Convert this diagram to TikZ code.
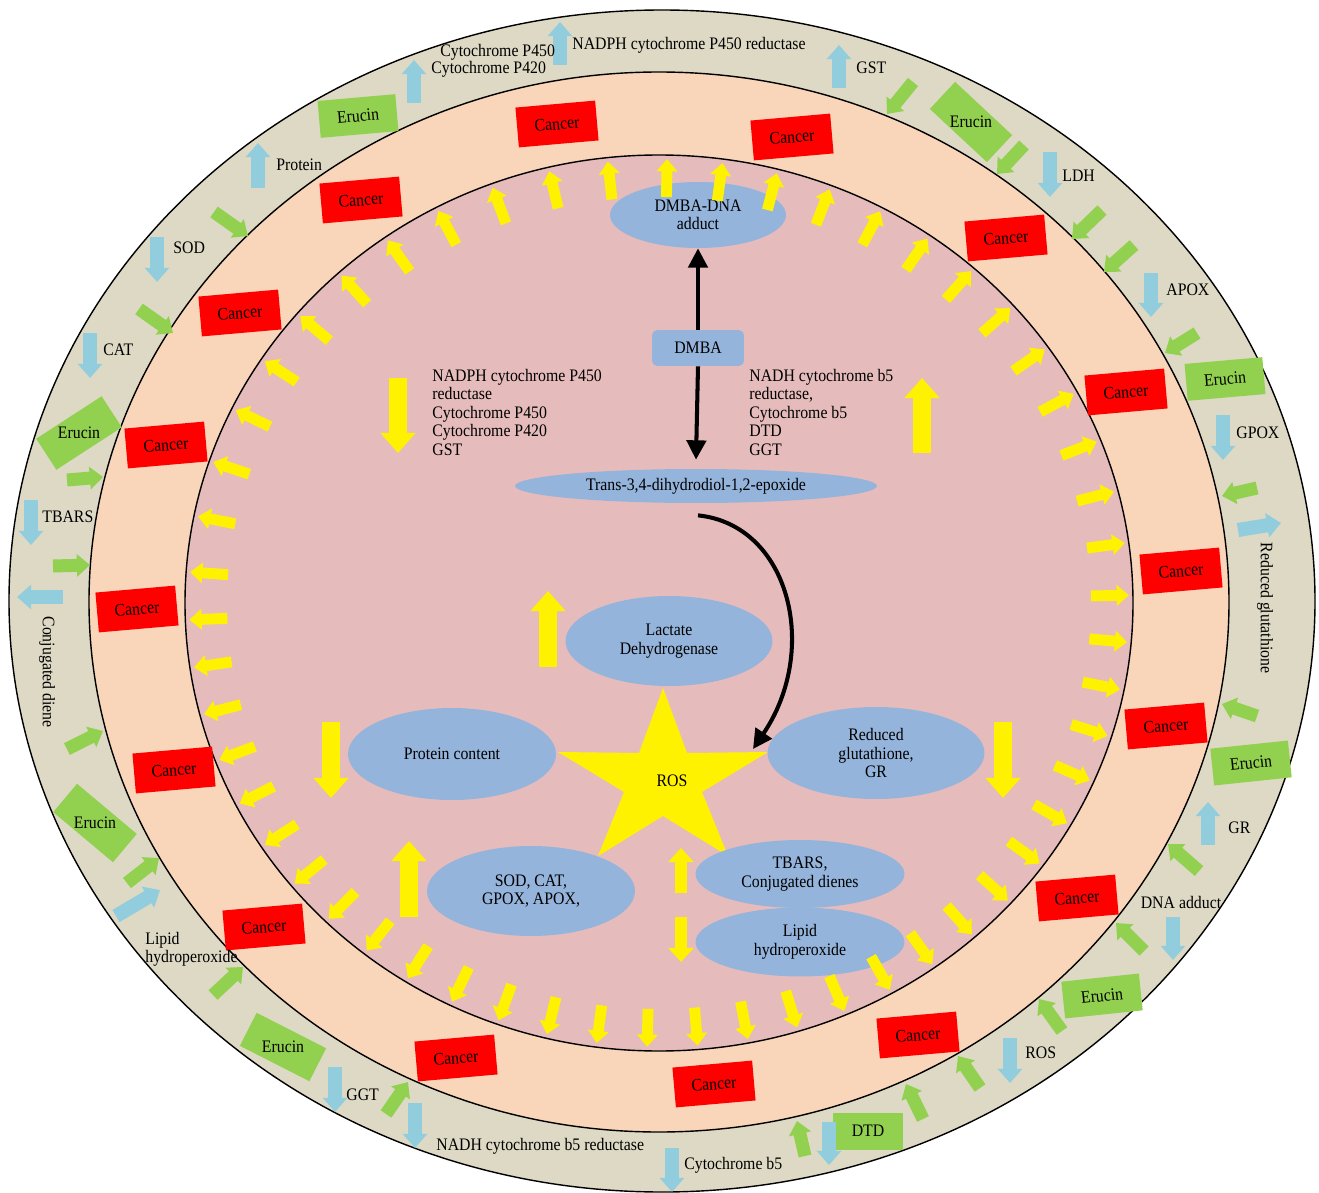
\documentclass[tikz,border=0pt]{standalone}
\usepackage{fontspec}
\setmainfont{Liberation Serif}[FakeStretch=0.9]
\usetikzlibrary{shapes.geometric,arrows.meta,calc,positioning}

\definecolor{bandout}{RGB}{221,217,196}
\definecolor{bandmid}{RGB}{249,213,186}
\definecolor{bandin}{RGB}{229,188,187}
\definecolor{ovalblue}{RGB}{148,180,220}
\definecolor{leafgreen}{RGB}{146,208,80}
\definecolor{skyblue}{RGB}{146,205,222}

\begin{document}
\begin{tikzpicture}[x=0.02cm,y=-0.02cm,font=\fontsize{10}{10.5}\selectfont]
\tikzset{oval/.style={ellipse,fill=ovalblue,inner sep=0pt,align=center}}
\tikzset{cancer/.style={rectangle,fill=red,minimum width=1.6cm,minimum height=0.8cm,inner sep=0pt}}
\tikzset{erucin/.style={rectangle,fill=leafgreen,minimum width=1.56cm,minimum height=0.74cm,inner sep=0pt}}
\tikzset{lbl/.style={anchor=west,inner sep=0pt}}
\tikzset{yring/.style={yellow,line width=6.2pt,-{Triangle[length=7pt,width=11.5pt]}}}
\tikzset{ybig/.style={yellow,line width=10pt,-{Triangle[length=11.5pt,width=19.5pt]}}}
\tikzset{ymid/.style={yellow,line width=7.2pt,-{Triangle[length=8pt,width=14pt]}}}
\tikzset{garrow/.style={leafgreen,line width=7.4pt,-{Triangle[length=7.5pt,width=12.5pt]}}}
\tikzset{barrow/.style={skyblue,line width=8pt,-{Triangle[length=8pt,width=13.5pt]}}}
\tikzset{karrow/.style={black,line width=2.3pt,-{Triangle[length=11pt,width=11pt]}}}

\useasboundingbox (0,0) rectangle (1319,1193);

% the three bands
\filldraw[fill=bandout,line width=0.8pt] (662,601) ellipse [x radius=653, y radius=591];
\filldraw[fill=bandmid,line width=0.8pt] (659,602) ellipse [x radius=570, y radius=530];
\filldraw[fill=bandin,line width=0.8pt] (659,603) ellipse [x radius=474, y radius=448];

% cancer boxes in the middle band
\node[cancer,rotate=5] (c1) at (557,124) {Cancer};
\node[cancer,rotate=5] (c2) at (792,137) {Cancer};
\node[cancer,rotate=5] (c3) at (361,200) {Cancer};
\node[cancer,rotate=5] (c4) at (1006,238) {Cancer};
\node[cancer,rotate=5] (c5) at (240,313) {Cancer};
\node[cancer,rotate=5] (c6) at (1126,392) {Cancer};
\node[cancer,rotate=5] (c7) at (166,445) {Cancer};
\node[cancer,rotate=5] (c8) at (1181,571) {Cancer};
\node[cancer,rotate=5] (c9) at (137,609) {Cancer};
\node[cancer,rotate=5] (c10) at (1166,726) {Cancer};
\node[cancer,rotate=5] (c11) at (174,770) {Cancer};
\node[cancer,rotate=5] (c12) at (1077,898) {Cancer};
\node[cancer,rotate=5] (c13) at (264,927) {Cancer};
\node[cancer,rotate=5] (c14) at (918,1035) {Cancer};
\node[cancer,rotate=5] (c15) at (456,1058) {Cancer};
\node[cancer,rotate=5] (c16) at (714,1084) {Cancer};

% erucin boxes in the outer band
\node[erucin,rotate=5] (e1) at (358,116) {Erucin};
\node[erucin,rotate=-43] (e2) at (971,122) {};
\node (e2t) at (e2) {Erucin};
\node[erucin,rotate=5] (e3) at (1225,379) {Erucin};
\node[erucin,rotate=33] (e4) at (79,433) {};
\node (e4t) at (e4) {Erucin};
\node[erucin,rotate=6] (e5) at (1251,763) {Erucin};
\node[erucin,rotate=-40] (e6) at (95,823) {};
\node (e6t) at (e6) {Erucin};
\node[erucin,rotate=6] (e7) at (1102,996) {Erucin};
\node[erucin,rotate=-27] (e8) at (283,1047) {};
\node (e8t) at (e8) {Erucin};
\node[erucin,minimum width=1.4cm] (dtd) at (868,1131) {DTD};

% green arrows
\foreach \xa/\ya/\xb/\yb in {214/212/248/236, 139/309/173/333, 913/82/887/114,
  1024/145/997/174, 1102/210/1072/239, 1134/245/1104/272, 1197/333/1165/353,
  1257/488/1222/496, 1257/716/1222/704, 1199/871/1168/844, 1144/951/1116/923,
  1062/1031/1039/999, 980/1088/958/1056, 923/1119/906/1084, 805/1156/797/1121,
  386/1114/408/1082, 213/995/243/967, 127/883/159/858, 67/749/103/731,
  53/566/90/565, 67/480/103/477}{%
\draw[garrow] (\xa,\ya) -- (\xb,\yb);}

% blue arrows
\foreach \xa/\ya/\xb/\yb in {414/103/414/60, 560/65/560/22, 839/88/839/45,
  1050/152/1050/197, 1151/273/1151/317, 1223/415/1223/460, 1238/530/1281/523,
  1208/845/1208/802, 1173/917/1173/960, 1010/1038/1010/1083, 829/1122/829/1165,
  672/1148/672/1192, 415/1103/415/1148, 335/1067/335/1112, 116/916/160/890,
  63/597/17/597, 31/500/31/545, 90/333/90/378, 157/237/157/282, 258/188/258/143}{%
\draw[barrow] (\xa,\ya) -- (\xb,\yb);}

% labels of the outer band
\node[lbl] (cyp450) at (440,52) {Cytochrome P450};
\node[lbl] (cyp420) at (431,69) {Cytochrome P420};
\node[lbl] (nadphr) at (572,45) {NADPH cytochrome P450 reductase};
\node[lbl] (gst) at (856,68) {GST};
\node[lbl] (ldh) at (1062,176) {LDH};
\node[lbl] (apox) at (1166,290) {APOX};
\node[lbl] (gpox) at (1236,433) {GPOX};
\node[rotate=-90] (rglut) at (1265,608) {Reduced glutathione};
\node[lbl] (gr) at (1228,828) {GR};
\node (dnaadd) at (1181,902) {DNA adduct};
\node[lbl] (rosl) at (1025,1053) {ROS};
\node[lbl] (cytb5) at (684,1165) {Cytochrome b5};
\node[lbl] (nadhr) at (436,1146) {NADH cytochrome b5 reductase};
\node[lbl] (ggt) at (346,1095) {GGT};
\node[lbl,align=left,anchor=north west] (lipidl) at (145,932) {Lipid\\hydroperoxide};
\node[rotate=-90] (cdiene) at (47,672) {Conjugated diene};
\node[lbl] (tbarsl) at (42,517) {TBARS};
\node[lbl] (cat) at (103,350) {CAT};
\node[lbl] (sodl) at (173,248) {SOD};
\node[lbl] (prot) at (276,165) {Protein};

% ROS star
\fill[yellow] (663,688) -- (687,753) -- (768,752) -- (702,792) -- (728,856) -- (663,816)
  -- (598,856) -- (624,792) -- (558,752) -- (639,753) -- cycle;
\node (ros) at (672,781) {ROS};
\coordinate (rostip) at (753,749);

% inner nodes
\node[oval,minimum width=3.52cm,minimum height=1.32cm] (adduct) at (698,215) {DMBA-DNA\\adduct};
\node[rectangle,rounded corners=3pt,fill=ovalblue,minimum width=1.84cm,minimum height=0.72cm] (dmba) at (698,348) {DMBA};
\node[oval,minimum width=7.24cm,minimum height=0.68cm] (trans) at (696,486) {Trans-3,4-dihydrodiol-1,2-epoxide};
\node[oval,minimum width=4.14cm,minimum height=1.8cm] (lactate) at (669,641) {Lactate\\Dehydrogenase};
\node[oval,minimum width=4.16cm,minimum height=1.84cm] (protein) at (452,754) {Protein content};
\node[oval,minimum width=4.34cm,minimum height=1.84cm] (redglut) at (876,753) {Reduced\\glutathione,\\GR};
\node[oval,minimum width=4.16cm,minimum height=1.8cm] (sod) at (531,891) {SOD, CAT,\\GPOX, APOX,};
\node[oval,minimum width=4.18cm,minimum height=1.36cm] (tbars) at (800,874) {TBARS,\\Conjugated dienes};
\node[oval,minimum width=4.18cm,minimum height=1.38cm] (lipid) at (800,942) {Lipid\\hydroperoxide};

\node[align=left,anchor=north west,inner sep=0pt] (cyplist) at (432,369) {NADPH cytochrome P450\\reductase\\Cytochrome P450\\Cytochrome P420\\GST};
\node[align=left,anchor=north west,inner sep=0pt] (b5list) at (749,369) {NADH cytochrome b5\\reductase,\\Cytochrome b5\\DTD\\GGT};

% yellow ring of arrows
\foreach \i in {0,...,13}{%
\draw[yring] ({659+432*cos(1+6.77*\i)},{603-406*sin(1+6.77*\i)}) -- ({659+470*cos(1+6.77*\i)},{603-444*sin(1+6.77*\i)});}
\foreach \i in {1,...,12}{%
\draw[yring] ({659+432*cos(89+7.25*\i)},{603-406*sin(89+7.25*\i)}) -- ({659+470*cos(89+7.25*\i)},{603-444*sin(89+7.25*\i)});}
\foreach \i in {1,...,29}{%
\draw[yring] ({659+432*cos(176+6.17*\i)},{603-406*sin(176+6.17*\i)}) -- ({659+470*cos(176+6.17*\i)},{603-444*sin(176+6.17*\i)});}

% big yellow arrows
\draw[ybig] (398,378) -- (398,453);
\draw[ybig] (922,453) -- (922,378);
\draw[ybig] (548,667) -- (548,591);
\draw[ybig] (331,722) -- (331,798);
\draw[ybig] (1003,722) -- (1003,798);
\draw[ybig] (409,917) -- (409,841);
\draw[ymid] (681,893) -- (681,848);
\draw[ymid] (681,917) -- (681,962);

% black arrows
\draw[karrow] (dmba.north) -- (adduct.south);
\draw[karrow] (dmba.south) -- ($(trans.north)+(0,-9)$);
\draw[karrow] ($(trans.south)+(2,12)$) .. controls (790,525) and (820,650) .. (rostip);

\end{tikzpicture}
\end{document}
